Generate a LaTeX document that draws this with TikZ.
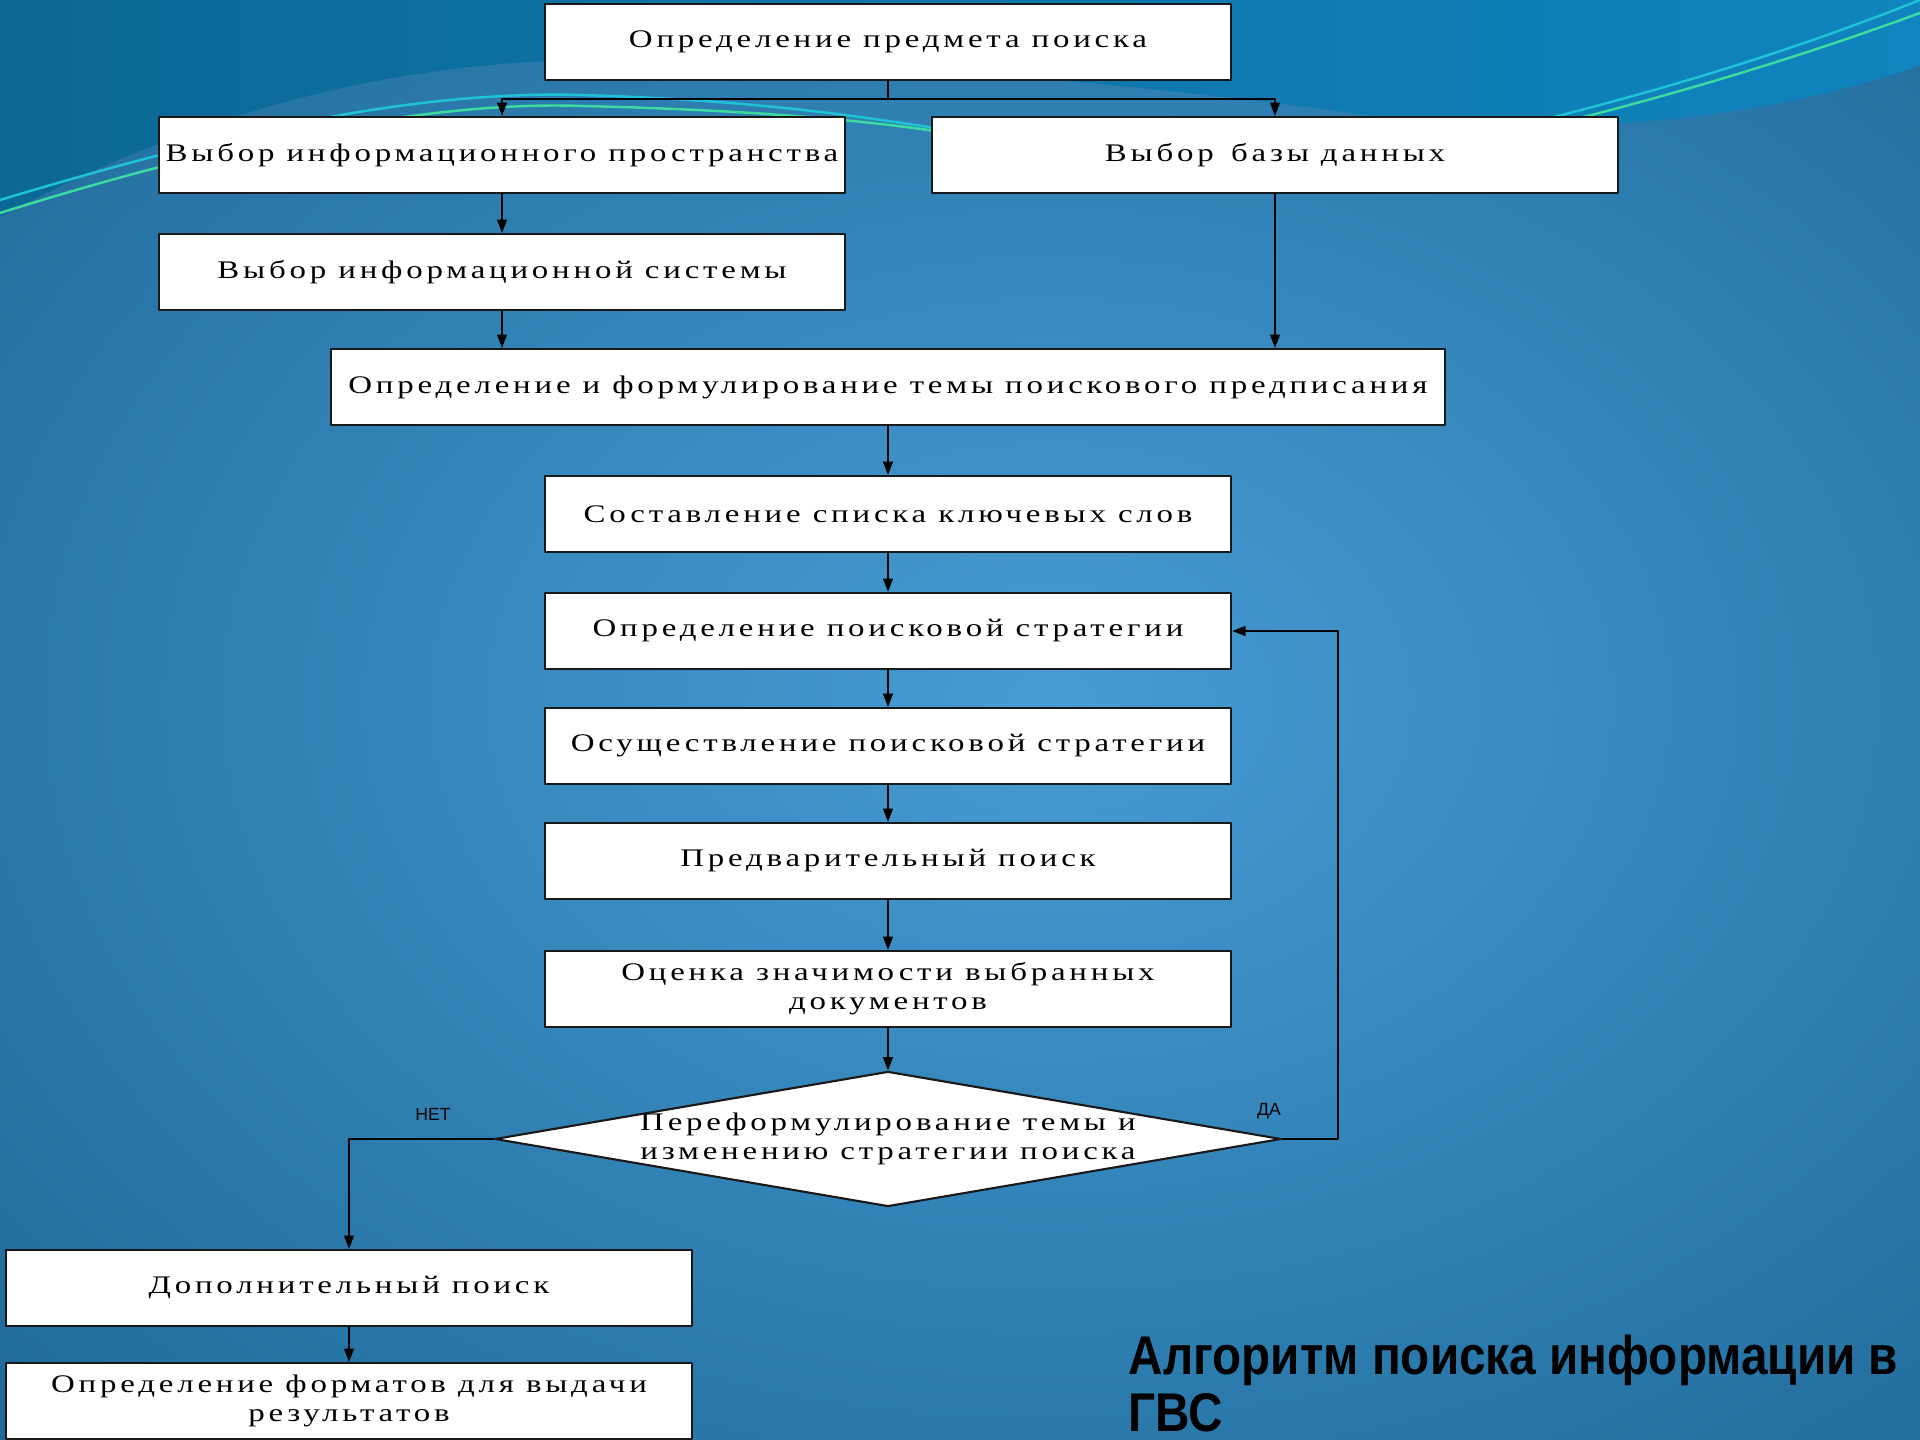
\documentclass[tikz,border=0pt]{standalone}
\usepackage{fontspec}
\setmainfont{Liberation Serif}
\newfontfamily\boxfont[FakeStretch=1.3,LetterSpace=15]{Liberation Serif}
\newfontfamily\titlefont[FakeStretch=0.875]{Liberation Sans}
\newfontfamily\markfont{Liberation Sans}
\usetikzlibrary{arrows.meta}
\usetikzlibrary{shapes.geometric}
\definecolor{bgmid}{RGB}{70,156,212}
\definecolor{bgedge}{RGB}{14,84,128}
\definecolor{tealtop}{RGB}{12,104,150}
\definecolor{tealmid}{RGB}{22,146,186}
\definecolor{tealright}{RGB}{16,132,190}
\definecolor{linecyan}{RGB}{30,196,214}
\definecolor{linegreen}{RGB}{60,220,160}
\tikzset{
  stage/.style={draw=black!90,fill=white,line width=0.6pt,minimum width=6.86cm,minimum height=0.76cm,inner sep=0pt,align=center,font=\boxfont\fontsize{7.2}{8.2}\selectfont},
  decision/.style={diamond,draw=black!90,fill=white,line width=0.6pt,minimum width=7.86cm,minimum height=1.35cm,inner sep=0pt},
  link/.style={->,line width=0.5pt,black},
  answer/.style={inner sep=0pt,font=\markfont\fontsize{5}{5}\selectfont},
  swoosh/.style={line width=0.7pt}
}
\begin{document}
\begin{tikzpicture}[line cap=round,line join=round,>={Triangle[length=3.8pt,width=2.8pt]},x=0.01cm,y=-0.01cm]
\useasboundingbox (0,0) rectangle (1920,1440);
\begin{scope}
\clip (0,0) rectangle (1920,1440);
\shade[inner color=bgmid,outer color=bgedge] (-1050,-800) rectangle (3150,2200);
\shade[left color=tealtop,middle color=tealmid,right color=tealright] (0,217) .. controls (180,120) and (380,60) .. (600,60) .. controls (900,60) and (1200,90) .. (1400,120) .. controls (1600,140) and (1800,110) .. (1920,65) -- (1920,0) -- (0,0) -- cycle;
\draw[swoosh,linecyan] (0,200) .. controls (200,140) and (400,90) .. (580,95) .. controls (750,100) and (850,115) .. (935,128);
\draw[swoosh,linegreen] (0,213) .. controls (200,150) and (420,100) .. (582,106) .. controls (750,110) and (860,120) .. (935,131);
\draw[swoosh,linecyan] (1550,118) .. controls (1700,80) and (1820,40) .. (1920,0);
\draw[swoosh,linegreen] (1580,118) .. controls (1720,82) and (1830,46) .. (1920,13);
\end{scope}
\node[stage] (subject) at (888,42) {Определение предмета поиска};
\node[stage] (space) at (502,155) {Выбор информационного пространства};
\node[stage] (base) at (1275,155) {Выбор\hspace{1.5pt} базы данных};
\node[stage] (system) at (502,272) {Выбор информационной системы};
\node[stage,minimum width=11.14cm] (topic) at (888,387) {Определение и формулирование темы поискового предписания};
\node[stage] (keywords) at (888,514) {Составление списка ключевых слов};
\node[stage] (strategy) at (888,631) {Определение поисковой стратегии};
\node[stage] (execution) at (888,746) {Осуществление поисковой стратегии};
\node[stage] (prelim) at (888,861) {Предварительный поиск};
\node[stage] (relevance) at (888,989) {Оценка значимости выбранных\\документов};
\node[decision] (reform) at (888,1139) {};
\node[align=center,inner sep=0pt,font=\boxfont\fontsize{7.2}{8.2}\selectfont] (reformtext) at (reform) {Переформулирование темы и\\изменению стратегии поиска};
\node[stage] (extra) at (349,1288) {Дополнительный поиск};
\node[stage] (formats) at (349,1401) {Определение форматов для выдачи\\результатов};
\node[answer] (no) at (433,1114) {НЕТ};
\node[answer] (yes) at (1269,1111) {ДА};
\node[anchor=north west,align=left,inner sep=0pt,font=\titlefont\bfseries\fontsize{15.5}{16.2}\selectfont] (caption) at (1128,1334) {Алгоритм поиска информации в\\ГВС};
\coordinate (fork) at (888,99);
\draw[line width=0.5pt] (subject.south) -- (fork);
\draw[link] (fork) -| (space.north);
\draw[link] (fork) -| (base.north);
\draw[link] (space.south) -- (system.north);
\draw[link] (system.south) -- (system.south |- topic.north);
\draw[link] (base.south) -- (base.south |- topic.north);
\draw[link] (topic.south) -- (keywords.north);
\draw[link] (keywords.south) -- (strategy.north);
\draw[link] (strategy.south) -- (execution.north);
\draw[link] (execution.south) -- (prelim.north);
\draw[link] (prelim.south) -- (relevance.north);
\draw[link] (relevance.south) -- (reform.north);
\draw[link] (reform.west) -| (extra.north);
\draw[link] (reform.east) -- ++(56,0) |- (strategy.east);
\draw[link] (extra.south) -- (formats.north);
\end{tikzpicture}
\end{document}
